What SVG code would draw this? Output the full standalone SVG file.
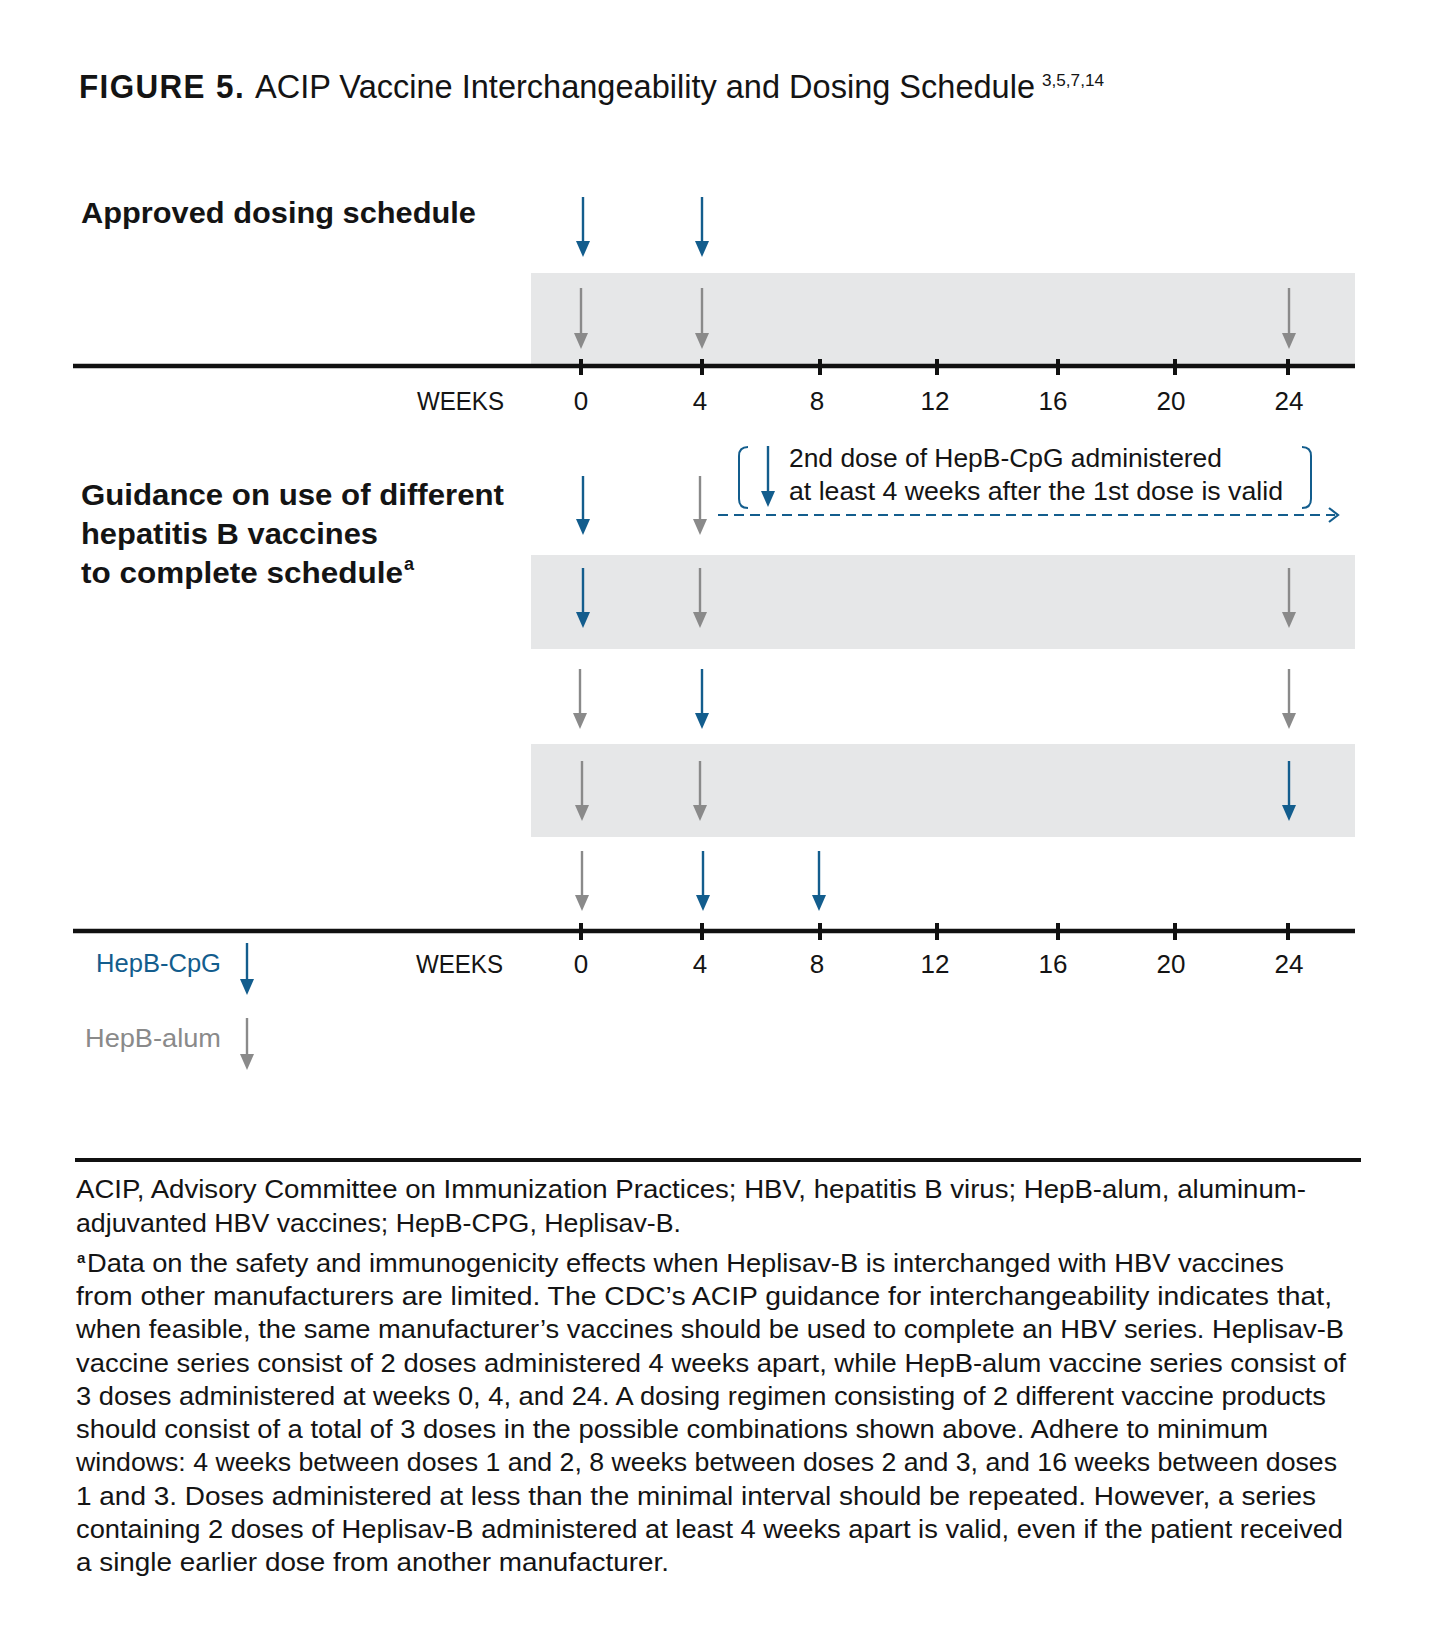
<svg xmlns="http://www.w3.org/2000/svg" width="1436" height="1646" viewBox="0 0 1436 1646">
  <style>
    .t{font-family:"Liberation Sans",Arial,sans-serif;fill:#141414}
    .b{font-weight:bold}
    .h{font-size:30px;font-weight:bold}
    .wk{font-size:26px;text-anchor:middle}
    .wl{font-size:26px;text-anchor:end}
    .fn{font-size:25px}
    .ann{font-size:26px}
    .band{fill:#e6e7e8}
    .axis{stroke:#111;stroke-width:4.5;fill:none}
    .tick{stroke:#111;stroke-width:4;fill:none}
    .ab{stroke:#135d8d;stroke-width:2.4;fill:none;marker-end:url(#hb)}
    .ag{stroke:#8a8a8a;stroke-width:2.4;fill:none;marker-end:url(#hg)}
    .br{stroke:#135d8d;stroke-width:2;fill:none}
  </style>
  <defs>
    <marker id="hb" markerUnits="userSpaceOnUse" viewBox="0 0 16 14" markerWidth="16" markerHeight="14" refX="8" refY="7" orient="auto">
      <path d="M0,0 L16,7 L0,14 z" fill="#135d8d"/>
    </marker>
    <marker id="hg" markerUnits="userSpaceOnUse" viewBox="0 0 16 14" markerWidth="16" markerHeight="14" refX="8" refY="7" orient="auto">
      <path d="M0,0 L16,7 L0,14 z" fill="#8a8a8a"/>
    </marker>
  </defs>
  <rect width="1436" height="1646" fill="#ffffff"/>

  <g id="title">
    <text class="t b" x="79" y="98" font-size="34" letter-spacing="1.5" textLength="166" lengthAdjust="spacingAndGlyphs">FIGURE 5.</text>
    <text class="t" x="255" y="98" font-size="33" textLength="780" lengthAdjust="spacingAndGlyphs">ACIP Vaccine Interchangeability and Dosing Schedule</text>
    <text class="t" x="1042" y="86" font-size="17" textLength="62" lengthAdjust="spacingAndGlyphs">3,5,7,14</text>
  </g>

  <g id="heading-approved">
    <text class="t h" x="81" y="223" textLength="395" lengthAdjust="spacingAndGlyphs">Approved dosing schedule</text>
  </g>

  <g id="heading-guidance">
    <text class="t h" x="81" y="505" textLength="423" lengthAdjust="spacingAndGlyphs">Guidance on use of different</text>
    <text class="t h" x="81" y="544" textLength="297" lengthAdjust="spacingAndGlyphs">hepatitis B vaccines</text>
    <text class="t h" x="81" y="583" textLength="322" lengthAdjust="spacingAndGlyphs">to complete schedule</text>
    <text class="t b" x="404" y="570" font-size="18">a</text>
  </g>

  <g id="bands">
    <rect class="band" x="531" y="273" width="824" height="93"/>
    <rect class="band" x="531" y="555" width="824" height="94"/>
    <rect class="band" x="531" y="744" width="824" height="93"/>
  </g>

  <g id="timeline-1">
    <line class="axis" x1="73" y1="366" x2="1355" y2="366"/>
    <g class="tick-marks">
      <line class="tick" x1="581" y1="359" x2="581" y2="375"/>
      <line class="tick" x1="702" y1="359" x2="702" y2="375"/>
      <line class="tick" x1="820" y1="359" x2="820" y2="375"/>
      <line class="tick" x1="937" y1="359" x2="937" y2="375"/>
      <line class="tick" x1="1058" y1="359" x2="1058" y2="375"/>
      <line class="tick" x1="1175" y1="359" x2="1175" y2="375"/>
      <line class="tick" x1="1288" y1="359" x2="1288" y2="375"/>
    </g>
    <text class="t wl" x="504" y="410" textLength="87" lengthAdjust="spacingAndGlyphs">WEEKS</text>
    <text class="t wk" x="581" y="410">0</text>
    <text class="t wk" x="700" y="410">4</text>
    <text class="t wk" x="817" y="410">8</text>
    <text class="t wk" x="935" y="410">12</text>
    <text class="t wk" x="1053" y="410">16</text>
    <text class="t wk" x="1171" y="410">20</text>
    <text class="t wk" x="1289" y="410">24</text>
  </g>

  <g id="timeline-2">
    <line class="axis" x1="73" y1="931" x2="1355" y2="931"/>
    <g class="tick-marks">
      <line class="tick" x1="581" y1="923" x2="581" y2="940"/>
      <line class="tick" x1="702" y1="923" x2="702" y2="940"/>
      <line class="tick" x1="820" y1="923" x2="820" y2="940"/>
      <line class="tick" x1="937" y1="923" x2="937" y2="940"/>
      <line class="tick" x1="1058" y1="923" x2="1058" y2="940"/>
      <line class="tick" x1="1175" y1="923" x2="1175" y2="940"/>
      <line class="tick" x1="1288" y1="923" x2="1288" y2="940"/>
    </g>
    <text class="t wl" x="503" y="973" textLength="87" lengthAdjust="spacingAndGlyphs">WEEKS</text>
    <text class="t wk" x="581" y="973">0</text>
    <text class="t wk" x="700" y="973">4</text>
    <text class="t wk" x="817" y="973">8</text>
    <text class="t wk" x="935" y="973">12</text>
    <text class="t wk" x="1053" y="973">16</text>
    <text class="t wk" x="1171" y="973">20</text>
    <text class="t wk" x="1289" y="973">24</text>
  </g>

  <g id="connectors">
    <line class="ab" x1="583" y1="197" x2="583" y2="249"/>
    <line class="ab" x1="702" y1="197" x2="702" y2="249"/>
    <line class="ag" x1="581" y1="288" x2="581" y2="341"/>
    <line class="ag" x1="702" y1="288" x2="702" y2="341"/>
    <line class="ag" x1="1289" y1="288" x2="1289" y2="341"/>
    <line class="ab" x1="583" y1="476" x2="583" y2="527"/>
    <line class="ag" x1="700" y1="476" x2="700" y2="527"/>
    <line class="ab" x1="583" y1="568" x2="583" y2="620"/>
    <line class="ag" x1="700" y1="568" x2="700" y2="620"/>
    <line class="ag" x1="1289" y1="568" x2="1289" y2="620"/>
    <line class="ag" x1="580" y1="669" x2="580" y2="721"/>
    <line class="ab" x1="702" y1="669" x2="702" y2="721"/>
    <line class="ag" x1="1289" y1="669" x2="1289" y2="721"/>
    <line class="ag" x1="582" y1="761" x2="582" y2="813"/>
    <line class="ag" x1="700" y1="761" x2="700" y2="813"/>
    <line class="ab" x1="1289" y1="761" x2="1289" y2="813"/>
    <line class="ag" x1="582" y1="851" x2="582" y2="903"/>
    <line class="ab" x1="703" y1="851" x2="703" y2="903"/>
    <line class="ab" x1="819" y1="851" x2="819" y2="903"/>
    <line x1="718" y1="515" x2="1335" y2="515" stroke="#135d8d" stroke-width="2" stroke-dasharray="10 6"/>
    <polyline points="1329,508 1338,515 1329,522" fill="none" stroke="#135d8d" stroke-width="2.2"/>
  </g>

  <g id="annotation">
    <path class="br" d="M748,447 Q739,447 739,456 L739,499 Q739,508 748,508"/>
    <path class="br" d="M1302,447 Q1311,447 1311,456 L1311,499 Q1311,508 1302,508"/>
    <line class="ab" x1="768" y1="446" x2="768" y2="499"/>
    <text class="t ann" x="789" y="467" textLength="433" lengthAdjust="spacingAndGlyphs">2nd dose of HepB-CpG administered</text>
    <text class="t ann" x="789" y="500" textLength="494" lengthAdjust="spacingAndGlyphs">at least 4 weeks after the 1st dose is valid</text>
  </g>

  <g id="legend">
    <text class="t" x="221" y="972" font-size="25" text-anchor="end" textLength="125" lengthAdjust="spacingAndGlyphs" style="fill:#135d8d">HepB-CpG</text>
    <line class="ab" x1="247" y1="943" x2="247" y2="987"/>
    <text class="t" x="221" y="1047" font-size="25" text-anchor="end" textLength="136" lengthAdjust="spacingAndGlyphs" style="fill:#8a8a8a">HepB-alum</text>
    <line class="ag" x1="247" y1="1018" x2="247" y2="1062"/>
  </g>

  <g id="footnotes">
    <line x1="75" y1="1160" x2="1361" y2="1160" stroke="#111" stroke-width="4"/>
    <text class="t fn" x="76" y="1198" textLength="1230" lengthAdjust="spacingAndGlyphs">ACIP, Advisory Committee on Immunization Practices; HBV, hepatitis B virus; HepB-alum, aluminum-</text>
    <text class="t fn" x="76" y="1232" textLength="605" lengthAdjust="spacingAndGlyphs">adjuvanted HBV vaccines; HepB-CPG, Heplisav-B.</text>
    <text class="t b" x="77" y="1263" font-size="15">a</text>
    <text class="t fn" x="87" y="1272" textLength="1197" lengthAdjust="spacingAndGlyphs">Data on the safety and immunogenicity effects when Heplisav-B is interchanged with HBV vaccines</text>
    <text class="t fn" x="76" y="1305" textLength="1256" lengthAdjust="spacingAndGlyphs">from other manufacturers are limited. The CDC’s ACIP guidance for interchangeability indicates that,</text>
    <text class="t fn" x="76" y="1338" textLength="1268" lengthAdjust="spacingAndGlyphs">when feasible, the same manufacturer’s vaccines should be used to complete an HBV series. Heplisav-B</text>
    <text class="t fn" x="76" y="1372" textLength="1270" lengthAdjust="spacingAndGlyphs">vaccine series consist of 2 doses administered 4 weeks apart, while HepB-alum vaccine series consist of</text>
    <text class="t fn" x="76" y="1405" textLength="1250" lengthAdjust="spacingAndGlyphs">3 doses administered at weeks 0, 4, and 24. A dosing regimen consisting of 2 different vaccine products</text>
    <text class="t fn" x="76" y="1438" textLength="1192" lengthAdjust="spacingAndGlyphs">should consist of a total of 3 doses in the possible combinations shown above. Adhere to minimum</text>
    <text class="t fn" x="76" y="1471" textLength="1261" lengthAdjust="spacingAndGlyphs">windows: 4 weeks between doses 1 and 2, 8 weeks between doses 2 and 3, and 16 weeks between doses</text>
    <text class="t fn" x="76" y="1505" textLength="1240" lengthAdjust="spacingAndGlyphs">1 and 3. Doses administered at less than the minimal interval should be repeated. However, a series</text>
    <text class="t fn" x="76" y="1538" textLength="1267" lengthAdjust="spacingAndGlyphs">containing 2 doses of Heplisav-B administered at least 4 weeks apart is valid, even if the patient received</text>
    <text class="t fn" x="76" y="1571" textLength="593" lengthAdjust="spacingAndGlyphs">a single earlier dose from another manufacturer.</text>
  </g>
</svg>
